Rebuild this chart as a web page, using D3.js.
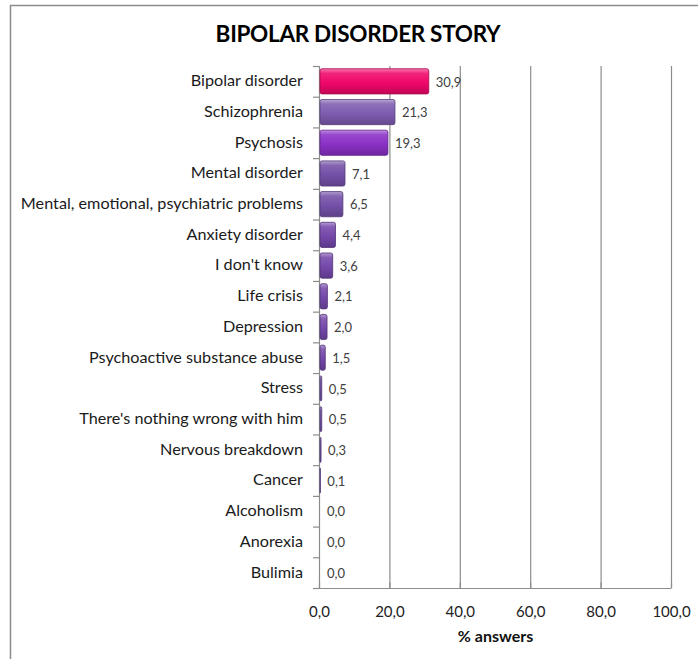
<!DOCTYPE html>
<html><head><meta charset="utf-8">
<script src="https://cdn.jsdelivr.net/npm/d3@7"></script>
<style>
body{margin:0;background:#fff;}
svg{display:block;font-family:Lato, "Open Sans", sans-serif;}
</style></head>
<body><svg id="c" width="698" height="659"></svg>
<script>
const categories = ["Bipolar disorder","Schizophrenia","Psychosis","Mental disorder","Mental, emotional, psychiatric problems","Anxiety disorder","I don't know","Life crisis","Depression","Psychoactive substance abuse","Stress","There's nothing wrong with him","Nervous breakdown","Cancer","Alcoholism","Anorexia","Bulimia"];
const values = [30.9,21.3,19.3,7.1,6.5,4.4,3.6,2.1,2.0,1.5,0.5,0.5,0.3,0.1,0.0,0.0,0.0];
const xTicks = [0,20,40,60,80,100];
const barColors = ["#f0076a","#7e5cb0","#8a30c6","#7450a8","#7450a8","#7448aa","#7448aa","#7448aa","#7448aa","#7448aa","#7450a8","#7450a8","#7450a8","#7450a8","#7450a8","#7450a8","#7450a8"];

const svg = d3.select("#c");
const L = 319, R = 671, T = 66, B = 588;
const x = d3.scaleLinear().domain([0,100]).range([L,R]);
const y = d3.scaleBand().domain(categories).range([T,B]).paddingInner(0.18).paddingOuter(0.09);

// frame
svg.append("path").attr("d","M10.5,659 V5.5 H698").attr("fill","none").attr("stroke","#8c8c8c").attr("stroke-width",1.5);

// title
svg.append("text").attr("x",358).attr("y",42).attr("text-anchor","middle")
  .attr("font-size",22.5).attr("font-weight","bold").attr("fill","#000").attr("letter-spacing","-0.3")
  .text("BIPOLAR DISORDER STORY");

// gradients
const defs = svg.append("defs");
barColors.forEach((c,i)=>{
  const g = defs.append("linearGradient").attr("id","g"+i).attr("x1",0).attr("y1",0).attr("x2",0).attr("y2",1);
  const base = d3.color(c);
  g.append("stop").attr("offset","0%").attr("stop-color",d3.interpolateRgb(c,"#fff")(0.45));
  g.append("stop").attr("offset","18%").attr("stop-color",d3.interpolateRgb(c,"#fff")(0.12));
  g.append("stop").attr("offset","55%").attr("stop-color",c);
  g.append("stop").attr("offset","100%").attr("stop-color",base.darker(0.6));
});

// gridlines
svg.append("g").selectAll("line").data(xTicks.slice(1)).join("line")
  .attr("x1",d=>x(d)+0.5).attr("x2",d=>x(d)+0.5).attr("y1",T).attr("y2",B)
  .attr("stroke","#8c8c8c").attr("stroke-width",1.2);

// x axis
const xa = svg.append("g").attr("transform",`translate(0,${B+0.5})`)
  .call(d3.axisBottom(x).tickValues(xTicks).tickSize(6).tickFormat(d=>d3.format(".1f")(d).replace(".",",")));
xa.select(".domain").attr("stroke","#8c8c8c").attr("stroke-width",1.2).attr("d",`M${L},0H${R}`);
xa.selectAll(".tick line").attr("stroke","#8c8c8c").attr("stroke-width",1.2).attr("y1",-6).attr("y2",0);
xa.selectAll(".tick text").attr("font-size",15).attr("fill","#222").attr("dy","0").attr("y",28).attr("font-family","Lato, sans-serif");

svg.append("text").attr("x",x(50)+0.5).attr("y",642).attr("text-anchor","middle")
  .attr("font-size",16).attr("font-weight","bold").attr("fill","#111").text("% answers");

// y axis
svg.append("line").attr("x1",L+0.5).attr("x2",L+0.5).attr("y1",T).attr("y2",B).attr("stroke","#8c8c8c").attr("stroke-width",1.2);
const bounds = d3.range(categories.length+1).map(i=>T + i*(B-T)/categories.length);
svg.append("g").selectAll("line").data(bounds).join("line")
  .attr("x1",L-6).attr("x2",L).attr("y1",d=>d+0.5).attr("y2",d=>d+0.5)
  .attr("stroke","#8c8c8c").attr("stroke-width",1.2);

svg.append("g").selectAll("text").data(categories).join("text")
  .attr("x",303).attr("y",d=>y(d)+y.bandwidth()/2).attr("dy","0.3em")
  .attr("text-anchor","end").attr("font-size",16.2).attr("fill","#1a1a1a").text(d=>d);

// bars
svg.append("g").selectAll("rect").data(values).join("rect")
  .attr("x",L+1).attr("y",(d,i)=>y(categories[i]))
  .attr("width",d=>Math.max(0,x(d)-L)).attr("height",y.bandwidth())
  .attr("rx",2)
  .attr("fill",(d,i)=>`url(#g${i})`)
  .attr("stroke",(d,i)=>d>0?d3.color(barColors[i]).darker(1):"none").attr("stroke-width",0.8);

// value labels
svg.append("g").selectAll("text").data(values).join("text")
  .attr("x",d=>x(d)+8).attr("y",(d,i)=>y(categories[i])+y.bandwidth()/2).attr("dy","0.4em")
  .attr("font-size",13).attr("fill","#404040")
  .text(d=>d3.format(".1f")(d).replace(".",","));
</script></body></html>
